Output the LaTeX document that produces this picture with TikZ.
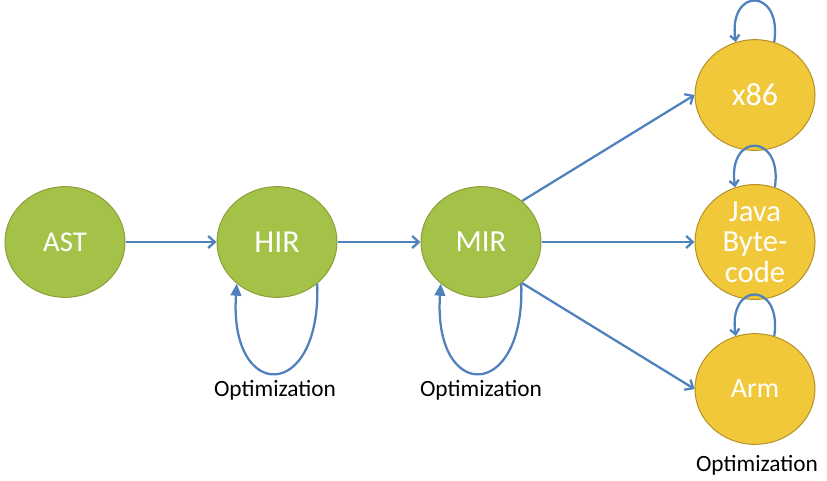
\documentclass[tikz,border=0pt]{standalone}
\usepackage{fontspec}
\setmainfont{Carlito}
\usetikzlibrary{arrows.meta}
\usetikzlibrary{shapes.geometric}
\usepackage{xcolor}
\definecolor{gn}{RGB}{165, 194, 72}
\definecolor{gnb}{RGB}{138, 158, 58}
\definecolor{yl}{RGB}{240, 200, 58}
\definecolor{ylb}{RGB}{180, 145, 40}
\definecolor{bl}{RGB}{79, 129, 189}

\begin{document}
\begin{tikzpicture}[x=0.75pt, y=-0.75pt,
        stage/.style={ellipse, draw=gnb, fill=gn, line width=0.75pt, minimum width=90pt, minimum height=83pt, inner sep=0pt, text=white, font=\fontsize{23}{23}\selectfont, align=center},
        target/.style={stage, draw=ylb, fill=yl},
        flow/.style={draw=bl, line width=1.7pt, -{Straight Barb[length=5pt, width=9pt]}},
        selfloop/.style={draw=bl, line width=1.7pt, -{Triangle[length=9pt, width=8pt]}},
        toploop/.style={draw=bl, line width=1.7pt, -{Straight Barb[length=4pt, width=7pt]}},
        note/.style={font=\fontsize{17.5}{20}\selectfont}]
        \useasboundingbox (0,0) rectangle (827,481);
        \node[stage, font=\fontsize{21.5}{23}\selectfont] (ast) at (65,242) {AST};
        \node[stage, font=\fontsize{24}{23}\selectfont] (hir) at (277,242) {HIR};
        \node[stage] (mir) at (481,242) {MIR};
        \node[target, font=\fontsize{24}{23}\selectfont] (x86) at (755,95) {x86};
        \node[target] (java) at (755,242) {Java\\Byte-\\code};
        \node[target, font=\fontsize{21}{23}\selectfont] (arm) at (755,389) {Arm};
        \node[note] (opthir) at (275,390) {Optimization};
        \node[note] (optmir) at (481,390) {Optimization};
        \node[note] (optarm) at (757,465) {Optimization};
        \draw[flow] (ast) -- (hir);
        \draw[flow] (hir) -- (mir);
        \draw[flow] (mir.45) -- (x86.west);
        \draw[flow] (mir) -- (java);
        \draw[flow] (mir.-45) -- (arm.west);
        % loops below
        \draw[selfloop] (hir.-46) .. controls +(4,119) and +(-8,119) .. (hir.-134);
        \draw[selfloop] (mir.-46) .. controls +(4,119) and +(-8,119) .. (mir.-134);
        % loops on top
        \draw[toploop] (x86.70) .. controls +(8,-55) and +(-8,-55) .. (x86.110);
        \draw[toploop] (java.70) .. controls +(8,-55) and +(-8,-55) .. (java.110);
        \draw[toploop] (arm.70) .. controls +(8,-55) and +(-8,-55) .. (arm.110);
\end{tikzpicture}
\end{document}
